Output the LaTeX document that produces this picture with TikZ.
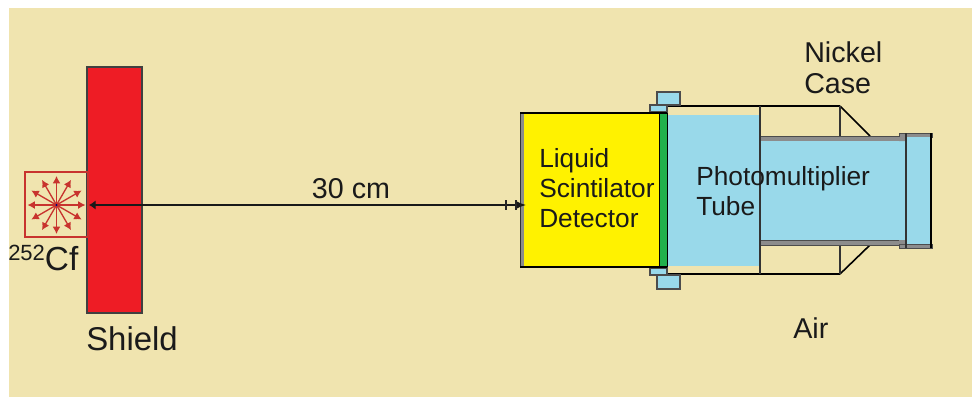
\documentclass[tikz,border=0pt]{standalone}
\usepackage{fontspec}
\setmainfont{Liberation Sans}
\usetikzlibrary{arrows.meta}
\definecolor{bgtan}{HTML}{F0E4AF}
\definecolor{shieldred}{HTML}{EE1C25}
\definecolor{pmtblue}{HTML}{99D9EA}
\definecolor{detyellow}{HTML}{FFF200}
\definecolor{glassgreen}{HTML}{22B14C}
\definecolor{casegray}{HTML}{8C8C8C}
\definecolor{srcred}{HTML}{C8332E}
\definecolor{inktext}{HTML}{1A1A1A}
\tikzset{
  x=0.75pt,y=-0.75pt,
  label/.style={font=\fontsize{21.5}{24}\selectfont,text=inktext,inner sep=0pt,align=left,anchor=west},
  inner label/.style={label,font=\fontsize{19.7}{23}\selectfont},
  casewall/.style={draw=black,line width=1.7pt},
  thin wall/.style={draw=black!80,line width=0.9pt},
  ray/.style={draw=srcred,line width=1pt,-{Latex[length=5.5pt,width=6pt]}},
  flange/.style={fill=pmtblue,draw=black!70,line width=0.9pt},
  grayband/.style={fill=casegray,draw=black!70,line width=0.5pt},
}
\begin{document}
\begin{tikzpicture}
\useasboundingbox (0,0) rectangle (972,397);
\fill[white] (0,0) rectangle (972,397);
\fill[bgtan] (9,8) rectangle (972,397);
% shield
\fill[shieldred] (87,67) rectangle (142,313);
\draw[black!75,line width=0.9pt] (87,67) rectangle (142,313);
% source
\draw[srcred,line width=0.9pt] (25,172) rectangle (88,237);
\coordinate (src) at (56.5,205);
\foreach \a in {0,30,...,330} \draw[ray] (src) -- ++(\a:29);
\fill[blue!50!black] (src) circle (1.2);
% case
\draw[casewall] (667,106) -- (840,106);
\draw[casewall] (667,274) -- (840,274);
\draw[black,line width=1.2pt] (840,106) -- (870,136);
\draw[black,line width=1.2pt] (840,274) -- (870,245);
\draw[thin wall] (840,106) -- (840,136) (840,245) -- (840,274);
% PMT
\fill[pmtblue] (667,115) rectangle (760,266);
\fill[grayband] (760,136) rectangle (906,141);
\fill[grayband] (760,240) rectangle (906,245);
\fill[pmtblue] (760,141) rectangle (906,240);
\fill[grayband] (899,133) rectangle (932,137);
\fill[grayband] (899,244) rectangle (932,248);
\fill[casegray] (899,137) rectangle (906,141) (899,240) rectangle (906,244);
\fill[pmtblue] (906,137) rectangle (930,244);
\draw[thin wall] (906,133) -- (906,248);
\draw[black,line width=1.8pt] (931,133) -- (931,248);
\draw[thin wall] (760,106) -- (760,274);
% flanges
\fill[flange] (657,92) rectangle (680,105);
\fill[flange] (650,105) rectangle (667,112);
\fill[flange] (650,268) rectangle (667,275);
\fill[flange] (657,275) rectangle (680,289);
% detector
\fill[casegray] (520,113) rectangle (524,267);
\fill[detyellow] (524,114) rectangle (659,266);
\fill[glassgreen] (659,113) rectangle (667,267);
\draw[black,line width=0.7pt] (659,113) -- (659,267) (667,113) -- (667,267);
\draw[black!80,line width=0.6pt] (520,113) -- (520,267);
\draw[casewall] (520,113) -- (667,113);
\draw[casewall] (520,267) -- (667,267);
% dimension line
\coordinate (dimL) at (89,205);
\coordinate (dimR) at (526,205);
\draw[black!90,line width=0.9pt,{Latex[length=5pt,width=7pt]}-{Latex[length=8pt,width=6.5pt]}] (dimL) -- (dimR);
\draw[black!85,line width=0.8pt] (506,200) -- (506,210);
\draw[black!85,line width=0.8pt] (516,200) -- (516,210);
% labels
\node[label,anchor=center] (dist) at (351,189) {30 cm};
\node[label] (cf) at (8,258) {\raisebox{7pt}{\fontsize{16.5}{18}\selectfont 252}\fontsize{25}{28}\selectfont Cf};
\node[label,font=\fontsize{24.7}{28}\selectfont] (shield) at (86,339) {Shield};
\node[inner label] (det) at (539,188) {Liquid\\[-0.5pt]Scintilator\\[-0.5pt]Detector};
\node[inner label] (pmt) at (696,191) {Photomultiplier\\[0pt]Tube};
\node[label] (nickel) at (804,68) {Nickel\\[-1pt]Case};
\node[label] (air) at (793,328) {Air};
\end{tikzpicture}
\end{document}
